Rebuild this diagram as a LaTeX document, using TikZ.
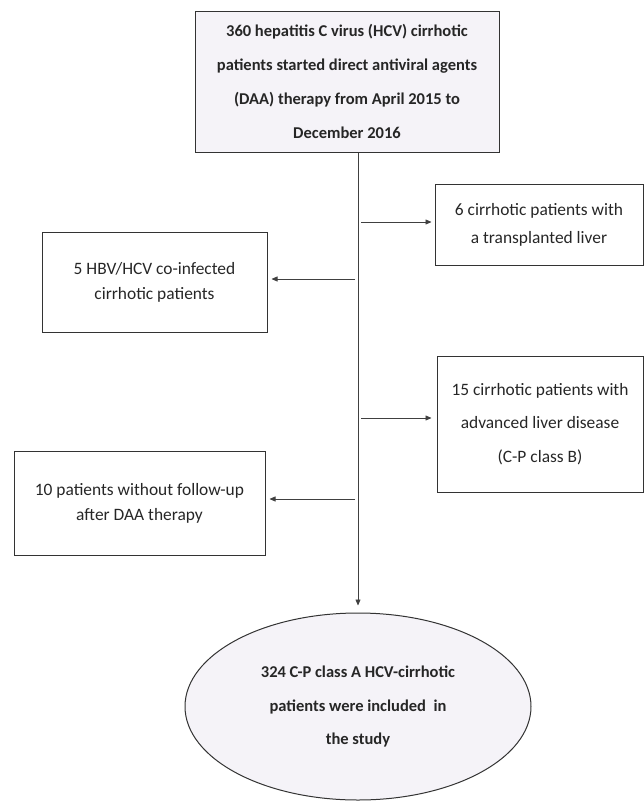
\documentclass[tikz,border=0pt]{standalone}
\usepackage{fontspec}
\setmainfont{Carlito}
\usetikzlibrary{arrows.meta,shapes.geometric}

\definecolor{fondo}{HTML}{F5F3F8}
\definecolor{texto}{HTML}{262626}

\tikzset{
  caja/.style={draw=black!80, line width=1pt, align=center, inner sep=0pt, text=texto},
  flecha/.style={-{Triangle[length=6pt,width=5pt]}, line width=0.7pt, black!75},
}

\begin{document}
\begin{tikzpicture}[x=1pt,y=-1pt]
    \useasboundingbox (0,0) rectangle (644,801);

    % Cajas
    \node[caja, fill=fondo, minimum width=304pt, minimum height=141pt,
          font={\bfseries\fontsize{16.5}{34}\selectfont}] (inicio) at (347,81.5)
          {360 hepatitis C virus (HCV) cirrhotic\\patients started direct antiviral agents\\(DAA) therapy from April 2015 to\\December 2016};
    \node[caja, minimum width=208pt, minimum height=81pt,
          font={\fontsize{17.4}{28}\selectfont}] (trasplante) at (539,224.5)
          {6 cirrhotic patients with\\a transplanted liver};
    \node[caja, minimum width=225pt, minimum height=100pt,
          font={\fontsize{17.4}{25}\selectfont}] (coinfectados) at (154.5,282)
          {5 HBV/HCV co-infected\\cirrhotic patients};
    \node[caja, minimum width=206pt, minimum height=136pt,
          font={\fontsize{17.4}{33.5}\selectfont}] (avanzada) at (540,424)
          {15 cirrhotic patients with\\advanced liver disease\\(C-P class B)};
    \node[caja, minimum width=251pt, minimum height=104pt,
          font={\fontsize{17.4}{25}\selectfont}] (perdidos) at (139.5,503)
          {10 patients without follow-up\\after DAA therapy};
    \node[caja, ellipse, fill=fondo, minimum width=346pt, minimum height=187pt,
          font={\bfseries\fontsize{16.5}{33.5}\selectfont}] (final) at (358,706.5)
          {324 C-P class A HCV-cirrhotic\\patients were included\ \ in\\the study};

    % Flechas
    \draw[flecha, shorten >=7pt] (final.north |- inicio.south) -- (final.north);
    \coordinate (r1) at (361,222);
    \coordinate (l1) at (355,279);
    \coordinate (r2) at (361,418);
    \coordinate (l2) at (355,499);
    \draw[flecha, shorten >=3pt] (r1) -- (r1 -| trasplante.west);
    \draw[flecha, shorten >=4pt] (l1) -- (l1 -| coinfectados.east);
    \draw[flecha, shorten >=5pt] (r2) -- (r2 -| avanzada.west);
    \draw[flecha, shorten >=4pt] (l2) -- (l2 -| perdidos.east);
\end{tikzpicture}
\end{document}
